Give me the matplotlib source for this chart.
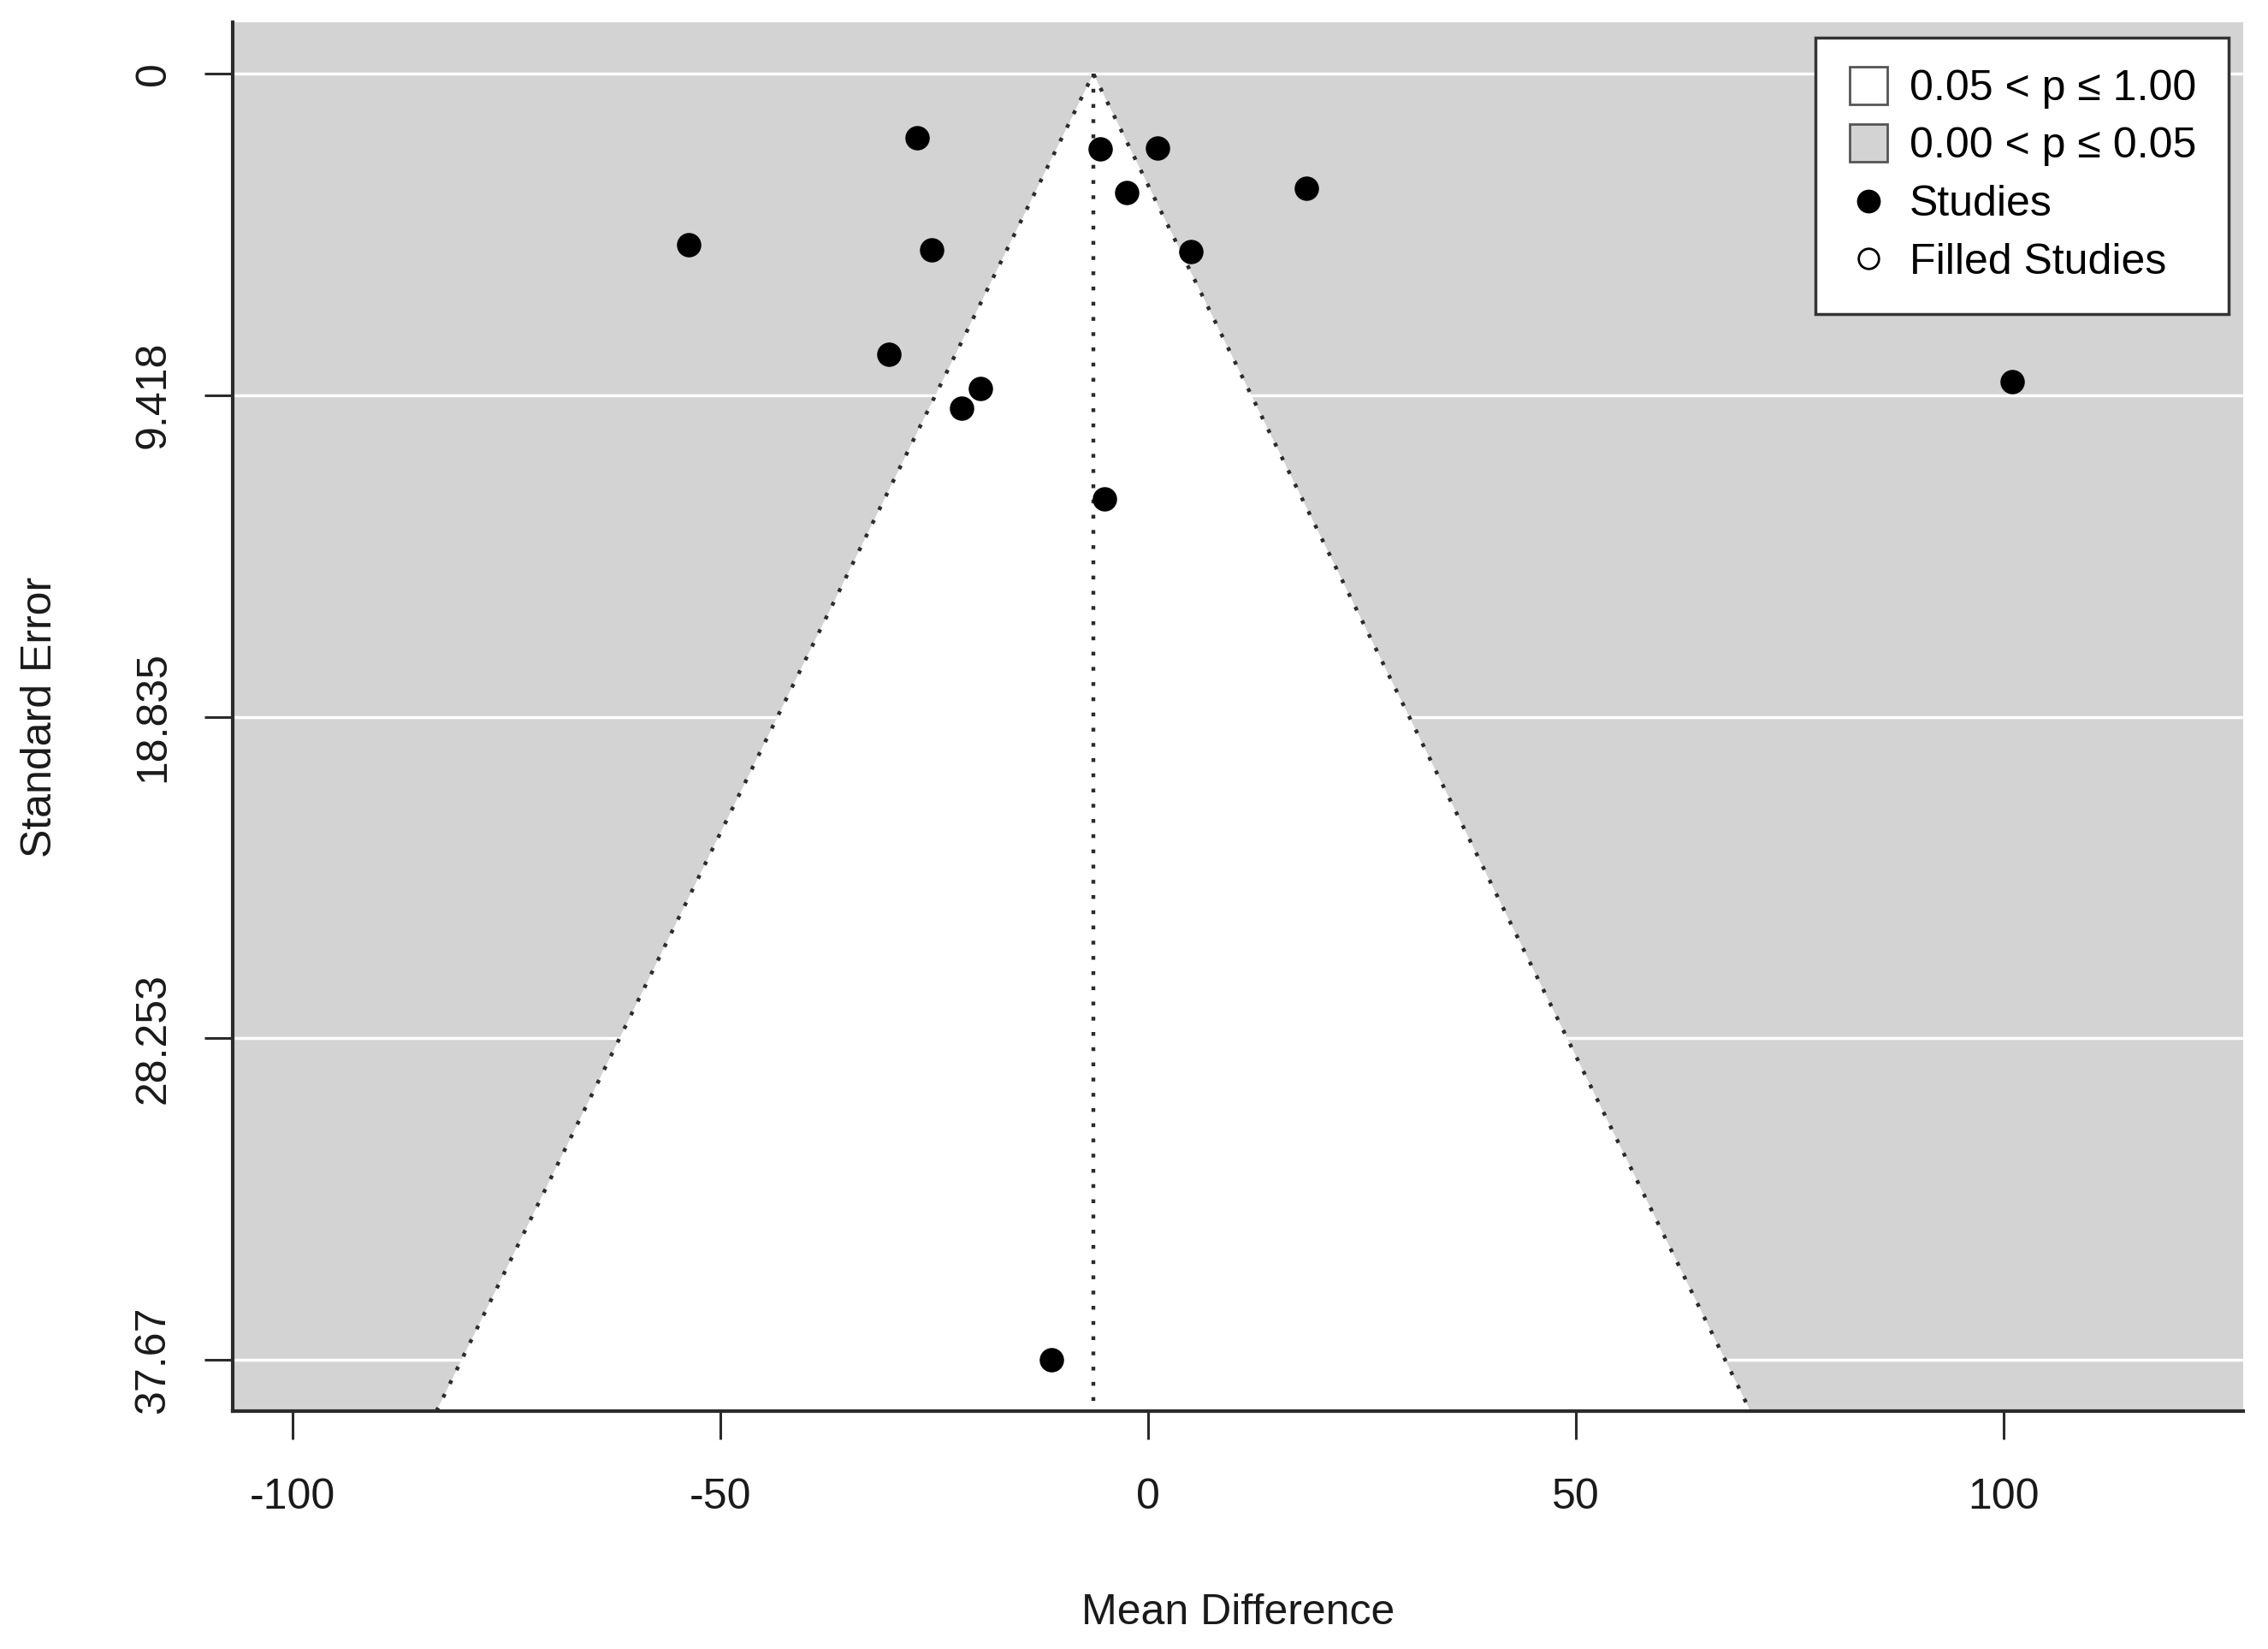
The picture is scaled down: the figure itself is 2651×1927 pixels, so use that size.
import matplotlib
matplotlib.use("Agg")
import matplotlib.pyplot as plt
from matplotlib.lines import Line2D
import numpy as np

# data
mean_diff = [-27.0, -5.65, 1.07, -2.55, 18.5, -53.7, -25.3, 4.97,
             -30.3, -19.65, -21.8, 101.0, -5.07, -11.3]
std_err = [1.88, 2.21, 2.19, 3.49, 3.35, 5.01, 5.17, 5.21,
           8.23, 9.23, 9.81, 9.02, 12.45, 37.67]
estimate = -6.4
x_ticks = [-100, -50, 0, 50, 100]
y_ticks = [0, 9.418, 18.835, 28.253, 37.67]
y_tick_labels = ["0", "9.418", "18.835", "28.253", "37.67"]
legend_labels = ["0.05 < p \u2264 1.00", "0.00 < p \u2264 0.05", "Studies", "Filled Studies"]

GRAY = "#d3d3d3"
DARK = "#2b2b2b"
FS = 36

plt.rcParams["font.family"] = ["Liberation Sans", "DejaVu Sans"]

fig = plt.figure(figsize=(26.51, 19.27), dpi=100)
ax = fig.add_axes([272 / 2651, 1 - 1649 / 1927, (2622 - 272) / 2651, (1649 - 26) / 1927])

ymax = max(y_ticks)
ylo, yhi = ymax + 0.04 * ymax, -0.04 * ymax
ax.set_xlim(-107, 128)
ax.set_ylim(ylo, yhi)
ax.set_facecolor(GRAY)

# white grid lines at y ticks
for yt in y_ticks:
    ax.axhline(yt, color="white", lw=2.5, zorder=1)

# funnel region (p > 0.05)
half = 1.96 * ylo
ax.fill([estimate, estimate - half, estimate + half], [0, ylo, ylo],
        color="white", zorder=2, lw=0)
ax.plot([estimate - half, estimate, estimate + half], [ylo, 0, ylo],
        color=DARK, lw=3.2, ls=(0, (1, 3)), zorder=3)
ax.plot([estimate, estimate], [0, ylo], color=DARK, lw=3.2, ls=(0, (1, 3)), zorder=3)

ax.plot(mean_diff, std_err, "o", color="black", ms=19.5, zorder=4, clip_on=False)

ax.set_xticks(x_ticks)
ax.set_xticklabels([str(v) for v in x_ticks])
ax.set_yticks(y_ticks)
ax.set_yticklabels(y_tick_labels, rotation=90, va="center")
ax.tick_params(axis="both", direction="out", length=24, width=2.2, color=DARK,
               labelsize=FS, labelcolor="#1a1a1a")
ax.tick_params(axis="x", pad=32)
ax.tick_params(axis="y", pad=26)

for s in ["top", "right"]:
    ax.spines[s].set_visible(False)
for s in ["left", "bottom"]:
    ax.spines[s].set_linewidth(3)
    ax.spines[s].set_color(DARK)

ax.set_xlabel("Mean Difference", fontsize=FS, color="#1a1a1a", labelpad=64)
ax.set_ylabel("Standard Error", fontsize=FS, color="#1a1a1a", labelpad=62)

handles = [
    Line2D([], [], ls="none", marker="s", ms=32, mfc="white", mec="#555555", mew=2),
    Line2D([], [], ls="none", marker="s", ms=32, mfc=GRAY, mec="#555555", mew=2),
    Line2D([], [], ls="none", marker="o", ms=19, mfc="black", mec="black"),
    Line2D([], [], ls="none", marker="o", ms=17, mfc="white", mec="black", mew=2),
]
leg = ax.legend(handles, legend_labels, loc="upper right", fontsize=FS,
                frameon=True, fancybox=False, framealpha=1, edgecolor="#333333",
                handlelength=1.0, handletextpad=0.45, labelspacing=0.43,
                borderpad=0.75, borderaxespad=0.35)
leg.get_frame().set_linewidth(2.5)
leg.set_zorder(10)

fig.savefig("out.png", dpi=100)
